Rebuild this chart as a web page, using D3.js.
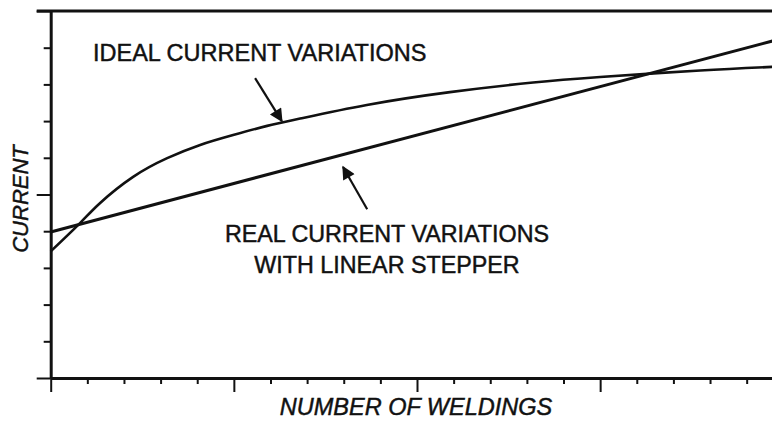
<!DOCTYPE html>
<html>
<head>
<meta charset="utf-8">
<script src="https://cdn.jsdelivr.net/npm/d3@7"></script>
<style>
  body { margin: 0; background: #fff; }
  svg { display: block; }
  text { font-family: "Liberation Sans", Arial, sans-serif; fill: #111; stroke: #111; stroke-width: 0.45px; }
</style>
</head>
<body>
<div id="chart"></div>
<script>
// curve values (x = weldings, y = current), axis units
var idealX = [0, 0.8, 1.35, 2.25, 3.18, 4.08, 4.98, 5.91, 6.81, 8.63, 10.9, 13.17, 15.0, 17.73, 20];
var idealY = [3.45, 4.22, 4.77, 5.48, 5.99, 6.35, 6.62, 6.87, 7.07, 7.44, 7.79, 8.05, 8.2, 8.38, 8.49];
var realX = [0, 20];
var realY = [3.98, 9.26];

var xTicks = d3.range(0, 21);
var yTicks = d3.range(0, 11);

var labelIdeal = "IDEAL CURRENT VARIATIONS";
var labelReal = ["REAL CURRENT VARIATIONS", "WITH LINEAR STEPPER"];
var xTitle = "NUMBER OF WELDINGS";
var yTitle = "CURRENT";

var W = 772, H = 421;

var x = d3.scaleLinear().domain([0, 20]).range([50.7, 783.3]);
var y = d3.scaleLinear().domain([0, 10]).range([378, 11]);

var svg = d3.select("#chart").append("svg")
  .attr("width", W)
  .attr("height", H);

// arrow head
svg.append("defs").append("marker")
  .attr("id", "head")
  .attr("viewBox", "0 0 10 10")
  .attr("refX", 9).attr("refY", 5)
  .attr("markerWidth", 7).attr("markerHeight", 6)
  .attr("markerUnits", "strokeWidth")
  .attr("orient", "auto")
  .append("path")
    .attr("d", "M0,0 L10,5 L0,10 Z")
    .attr("fill", "#111");

// y axis
var yAxis = svg.append("g")
  .attr("transform", "translate(" + x(0) + ",0)")
  .call(d3.axisLeft(y).tickValues(yTicks).tickSize(7).tickSizeOuter(0).tickFormat(""));
yAxis.selectAll(".tick line")
  .attr("x2", function(d) { return d % 5 == 0 ? -14 : -7; })
  .attr("stroke-width", 2);

// x axis
var xAxis = svg.append("g")
  .attr("transform", "translate(0," + y(0) + ")")
  .call(d3.axisBottom(x).tickValues(xTicks).tickSize(6).tickSizeOuter(0).tickFormat(""));
xAxis.selectAll(".tick line")
  .attr("y2", function(d) { return d % 5 == 0 ? 14 : 6; })
  .attr("stroke-width", 2);

svg.selectAll(".domain").attr("stroke-width", 3).attr("stroke", "#111");
svg.selectAll(".tick line").attr("stroke", "#111");

// top frame line
svg.append("line")
  .attr("x1", x(0) - 14).attr("x2", W)
  .attr("y1", y(10)).attr("y2", y(10))
  .attr("stroke", "#111").attr("stroke-width", 3);

// curves
var line = d3.line()
  .x(function(d) { return x(d[0]); })
  .y(function(d) { return y(d[1]); });

svg.append("path")
  .datum(d3.zip(idealX, idealY))
  .attr("d", line.curve(d3.curveNatural))
  .attr("fill", "none").attr("stroke", "#111").attr("stroke-width", 2.6);

svg.append("path")
  .datum(d3.zip(realX, realY))
  .attr("d", line.curve(d3.curveLinear))
  .attr("fill", "none").attr("stroke", "#111").attr("stroke-width", 3);

// annotation arrows
var arrows = [
  [[5.58, 8.17], [6.31, 7.0]],
  [[8.64, 4.6], [7.98, 5.75]]
];
svg.selectAll(".arrow")
  .data(arrows)
  .enter().append("line")
    .attr("class", "arrow")
    .attr("x1", function(d) { return x(d[0][0]); })
    .attr("y1", function(d) { return y(d[0][1]); })
    .attr("x2", function(d) { return x(d[1][0]); })
    .attr("y2", function(d) { return y(d[1][1]); })
    .attr("stroke", "#111").attr("stroke-width", 2.2)
    .attr("marker-end", "url(#head)");

// labels
svg.append("text")
  .attr("x", 93).attr("y", 61)
  .style("font-size", "23.5px")
  .text(labelIdeal);

svg.selectAll(".real")
  .data(labelReal)
  .enter().append("text")
    .attr("class", "real")
    .attr("x", 387)
    .attr("y", function(d, i) { return 241.5 + i * 31.5; })
    .attr("text-anchor", "middle")
    .style("font-size", "23.3px")
    .text(function(d) { return d; });

svg.append("text")
  .attr("x", 416).attr("y", 415)
  .attr("text-anchor", "middle")
  .style("font-size", "23.5px")
  .style("font-style", "italic")
  .text(xTitle);

svg.append("text")
  .attr("transform", "translate(28,199) rotate(-90)")
  .attr("text-anchor", "middle")
  .style("font-size", "22px")
  .style("font-style", "italic")
  .text(yTitle);
</script>
</body>
</html>
